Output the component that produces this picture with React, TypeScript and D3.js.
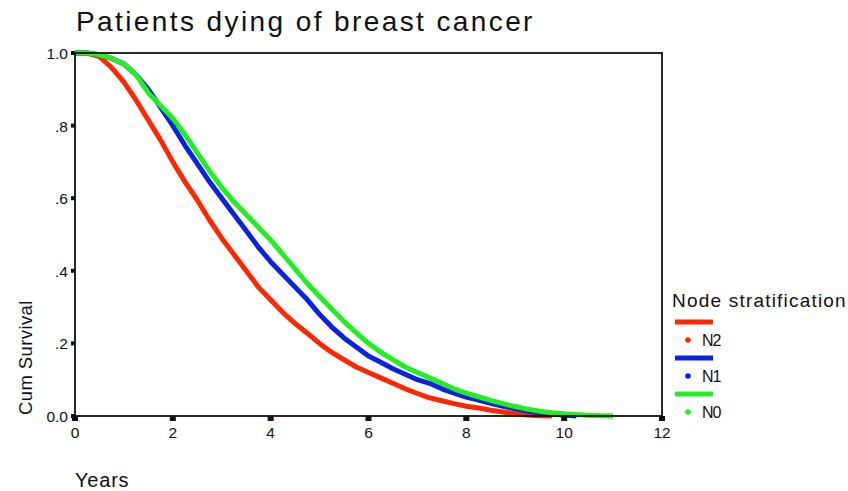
import { useEffect, useRef } from "react";
import * as d3 from "d3";

// years (0.25 step)
const years = [
  0, 0.25, 0.5, 0.75, 1, 1.25, 1.5, 1.75, 2, 2.25, 2.5, 2.75, 3, 3.25, 3.5, 3.75, 4, 4.25, 4.5, 4.75,
  5, 5.25, 5.5, 5.75, 6, 6.25, 6.5, 6.75, 7, 7.25, 7.5, 7.75, 8, 8.25, 8.5, 8.75, 9, 9.25, 9.5, 9.75,
  10, 10.25, 10.5, 10.75, 11,
];

const survN2 = [
  1.0, 1.0, 0.99, 0.96, 0.92, 0.87, 0.815, 0.76, 0.7, 0.645, 0.595, 0.54, 0.49, 0.445, 0.4, 0.355, 0.32, 0.285, 0.255, 0.228,
  0.2, 0.175, 0.155, 0.135, 0.12, 0.105, 0.09, 0.075, 0.062, 0.05, 0.042, 0.034, 0.027, 0.022, 0.016, 0.011, 0.006, 0.003, 0.001, 0,
];

const survN1 = [
  1.0, 1.0, 0.995, 0.985, 0.97, 0.94, 0.9, 0.85, 0.8, 0.745, 0.695, 0.645, 0.6, 0.555, 0.51, 0.465, 0.425, 0.39, 0.355, 0.32,
  0.28, 0.245, 0.215, 0.19, 0.165, 0.148, 0.13, 0.115, 0.1, 0.09, 0.075, 0.063, 0.052, 0.044, 0.035, 0.027, 0.02, 0.014, 0.009, 0.005,
  0.003, 0,
];

const survN0 = [
  1.0, 1.0, 0.995, 0.985, 0.97, 0.94, 0.89, 0.855, 0.82, 0.775, 0.725, 0.675, 0.63, 0.59, 0.555, 0.52, 0.485, 0.445, 0.405, 0.365,
  0.33, 0.295, 0.26, 0.23, 0.2, 0.176, 0.155, 0.135, 0.12, 0.105, 0.09, 0.075, 0.063, 0.053, 0.043, 0.034, 0.026, 0.019, 0.013, 0.009,
  0.006, 0.004, 0.002, 0.001, 0,
];

const seriesNames = ["N2", "N1", "N0"];
const seriesColors = ["#ff2600", "#0a22e0", "#22ee22"];
const xTicks = [0, 2, 4, 6, 8, 10, 12];
const yTicks = [0, 0.2, 0.4, 0.6, 0.8, 1.0];
const yTickLabels = ["0.0", ".2", ".4", ".6", ".8", "1.0"];

export default function App() {
  const ref = useRef<SVGSVGElement>(null);

  useEffect(() => {
    const width = 848;
    const height = 491;
    const margin = { top: 53, right: 186, bottom: 75, left: 75 };
    const font = "'Liberation Sans', Arial, sans-serif";

    const svg = d3.select(ref.current);
    svg.selectAll("*").remove();
    svg.attr("viewBox", `0 0 ${width} ${height}`);

    svg.append("rect").attr("width", width).attr("height", height).attr("fill", "#fff");

    const x = d3.scaleLinear().domain([0, 12]).range([margin.left, width - margin.right]);
    const y = d3.scaleLinear().domain([0, 1]).range([height - margin.bottom, margin.top]);

    // title
    svg
      .append("text")
      .attr("x", 76)
      .attr("y", 31)
      .attr("font-family", font)
      .attr("font-size", 28)
      .attr("letter-spacing", 2.4)
      .attr("fill", "#111")
      .text("Patients dying of breast cancer");

    // curves
    const data = [survN2, survN1, survN0];
    const line = d3
      .line<number>()
      .x((_, i) => x(years[i]))
      .y((d) => y(d));

    data.forEach((vals, k) => {
      svg
        .append("path")
        .attr("d", line(vals))
        .attr("fill", "none")
        .attr("stroke", seriesColors[k])
        .attr("stroke-width", 5)
        .attr("stroke-linejoin", "round");
    });

    // frame
    svg
      .append("rect")
      .attr("x", x(0))
      .attr("y", y(1))
      .attr("width", x(12) - x(0))
      .attr("height", y(0) - y(1))
      .attr("fill", "none")
      .attr("stroke", "#111")
      .attr("stroke-width", 1.8);

    // x ticks
    const xt = svg.append("g");
    xt.selectAll("rect")
      .data(xTicks)
      .join("rect")
      .attr("x", (d) => x(d) - 3)
      .attr("y", y(0))
      .attr("width", 6)
      .attr("height", 5)
      .attr("fill", "#111");
    xt.selectAll("text")
      .data(xTicks)
      .join("text")
      .attr("x", (d) => x(d))
      .attr("y", y(0) + 22)
      .attr("text-anchor", "middle")
      .attr("font-family", font)
      .attr("font-size", 15.5)
      .attr("fill", "#111")
      .text((d) => d);

    // y ticks
    const yt = svg.append("g");
    yt.selectAll("rect")
      .data(yTicks)
      .join("rect")
      .attr("x", x(0) - 4)
      .attr("y", (d) => y(d) - 2)
      .attr("width", 4)
      .attr("height", 4)
      .attr("fill", "#111");
    yt.selectAll("text")
      .data(yTicks)
      .join("text")
      .attr("x", x(0) - 7)
      .attr("y", (d) => y(d) + 6)
      .attr("text-anchor", "end")
      .attr("font-family", font)
      .attr("font-size", 15.5)
      .attr("fill", "#111")
      .text((_, i) => yTickLabels[i]);

    // axis titles
    svg
      .append("text")
      .attr("transform", `translate(32,${y(0) - 1}) rotate(-90)`)
      .attr("font-family", font)
      .attr("font-size", 18.5)
      .attr("letter-spacing", 0.4)
      .attr("fill", "#111")
      .text("Cum Survival");

    svg
      .append("text")
      .attr("x", 75)
      .attr("y", 487)
      .attr("font-family", font)
      .attr("font-size", 20)
      .attr("letter-spacing", 0.8)
      .attr("fill", "#111")
      .text("Years");

    // legend
    const lg = svg.append("g");
    lg.append("text")
      .attr("x", 672)
      .attr("y", 307)
      .attr("font-family", font)
      .attr("font-size", 19)
      .attr("letter-spacing", 1.2)
      .attr("fill", "#111")
      .text("Node stratification");

    seriesNames.forEach((name, i) => {
      const top = 322 + i * 36;
      lg.append("line")
        .attr("x1", 675)
        .attr("x2", 713)
        .attr("y1", top)
        .attr("y2", top)
        .attr("stroke", seriesColors[i])
        .attr("stroke-width", 5);
      lg.append("circle")
        .attr("cx", 688)
        .attr("cy", top + 18)
        .attr("r", 2.8)
        .attr("fill", seriesColors[i]);
      lg.append("text")
        .attr("x", 702)
        .attr("y", top + 24)
        .attr("font-family", font)
        .attr("font-size", 16)
        .attr("letter-spacing", -1)
        .attr("fill", "#111")
        .text(name);
    });
  }, []);

  return (
    <svg
      ref={ref}
      width={848}
      height={491}
      style={{ position: "absolute", left: 0, top: 0, display: "block" }}
    />
  );
}
